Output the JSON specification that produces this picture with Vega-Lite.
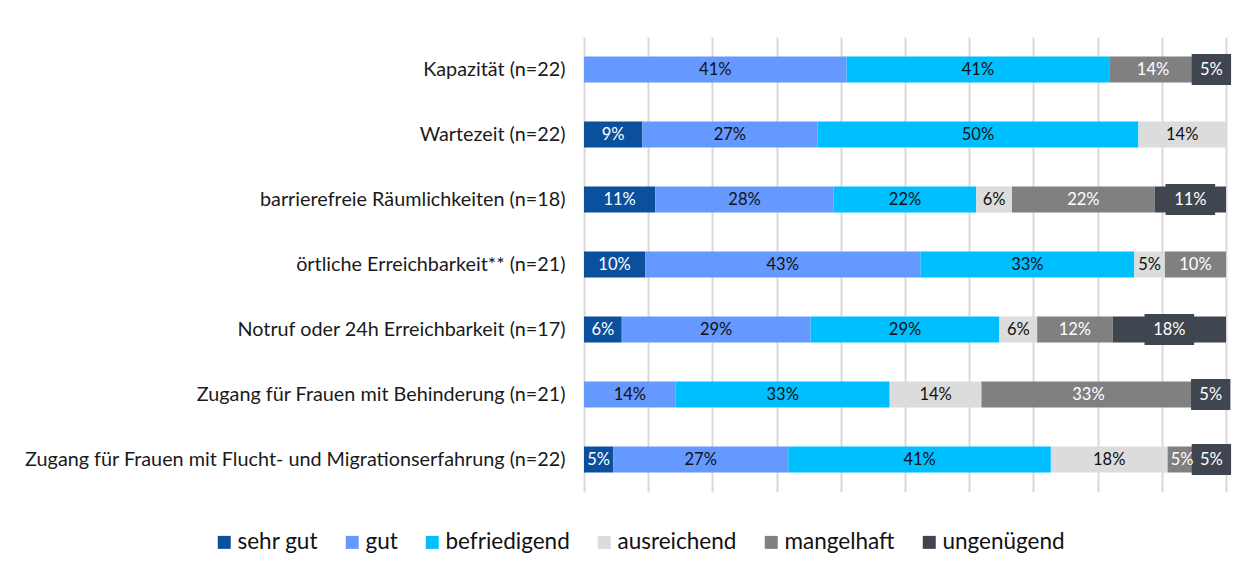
{
  "$schema": "https://vega.github.io/schema/vega-lite/v6.json",
  "width": 642,
  "height": 455,
  "autosize": {"type": "none"},
  "padding": {"left": 584, "top": 37, "right": 22, "bottom": 82},
  "background": "white",
  "config": {"font": "Lato", "view": {"stroke": null}},
  "data": {"values": [
    {"item": "Kapazität (n=22)", "rating": "gut", "pct": 40.91},
    {"item": "Kapazität (n=22)", "rating": "befriedigend", "pct": 40.91},
    {"item": "Kapazität (n=22)", "rating": "mangelhaft", "pct": 13.64},
    {"item": "Kapazität (n=22)", "rating": "ungenügend", "pct": 4.55},
    {"item": "Wartezeit (n=22)", "rating": "sehr gut", "pct": 9.09},
    {"item": "Wartezeit (n=22)", "rating": "gut", "pct": 27.27},
    {"item": "Wartezeit (n=22)", "rating": "befriedigend", "pct": 50.0},
    {"item": "Wartezeit (n=22)", "rating": "ausreichend", "pct": 13.64},
    {"item": "barrierefreie Räumlichkeiten (n=18)", "rating": "sehr gut", "pct": 11.11},
    {"item": "barrierefreie Räumlichkeiten (n=18)", "rating": "gut", "pct": 27.78},
    {"item": "barrierefreie Räumlichkeiten (n=18)", "rating": "befriedigend", "pct": 22.22},
    {"item": "barrierefreie Räumlichkeiten (n=18)", "rating": "ausreichend", "pct": 5.56},
    {"item": "barrierefreie Räumlichkeiten (n=18)", "rating": "mangelhaft", "pct": 22.22},
    {"item": "barrierefreie Räumlichkeiten (n=18)", "rating": "ungenügend", "pct": 11.11},
    {"item": "örtliche Erreichbarkeit** (n=21)", "rating": "sehr gut", "pct": 9.52},
    {"item": "örtliche Erreichbarkeit** (n=21)", "rating": "gut", "pct": 42.86},
    {"item": "örtliche Erreichbarkeit** (n=21)", "rating": "befriedigend", "pct": 33.33},
    {"item": "örtliche Erreichbarkeit** (n=21)", "rating": "ausreichend", "pct": 4.76},
    {"item": "örtliche Erreichbarkeit** (n=21)", "rating": "mangelhaft", "pct": 9.52},
    {"item": "Notruf oder 24h Erreichbarkeit (n=17)", "rating": "sehr gut", "pct": 5.88},
    {"item": "Notruf oder 24h Erreichbarkeit (n=17)", "rating": "gut", "pct": 29.41},
    {"item": "Notruf oder 24h Erreichbarkeit (n=17)", "rating": "befriedigend", "pct": 29.41},
    {"item": "Notruf oder 24h Erreichbarkeit (n=17)", "rating": "ausreichend", "pct": 5.88},
    {"item": "Notruf oder 24h Erreichbarkeit (n=17)", "rating": "mangelhaft", "pct": 11.76},
    {"item": "Notruf oder 24h Erreichbarkeit (n=17)", "rating": "ungenügend", "pct": 17.65},
    {"item": "Zugang für Frauen mit Behinderung (n=21)", "rating": "gut", "pct": 14.29},
    {"item": "Zugang für Frauen mit Behinderung (n=21)", "rating": "befriedigend", "pct": 33.33},
    {"item": "Zugang für Frauen mit Behinderung (n=21)", "rating": "ausreichend", "pct": 14.29},
    {"item": "Zugang für Frauen mit Behinderung (n=21)", "rating": "mangelhaft", "pct": 33.33},
    {"item": "Zugang für Frauen mit Behinderung (n=21)", "rating": "ungenügend", "pct": 4.76},
    {"item": "Zugang für Frauen mit Flucht- und Migrationserfahrung (n=22)", "rating": "sehr gut", "pct": 4.55},
    {"item": "Zugang für Frauen mit Flucht- und Migrationserfahrung (n=22)", "rating": "gut", "pct": 27.27},
    {"item": "Zugang für Frauen mit Flucht- und Migrationserfahrung (n=22)", "rating": "befriedigend", "pct": 40.91},
    {"item": "Zugang für Frauen mit Flucht- und Migrationserfahrung (n=22)", "rating": "ausreichend", "pct": 18.18},
    {"item": "Zugang für Frauen mit Flucht- und Migrationserfahrung (n=22)", "rating": "mangelhaft", "pct": 4.55},
    {"item": "Zugang für Frauen mit Flucht- und Migrationserfahrung (n=22)", "rating": "ungenügend", "pct": 4.55}
  ]},
  "transform": [
    {"calculate": "indexof(['sehr gut','gut','befriedigend','ausreichend','mangelhaft','ungenügend'], datum.rating)", "as": "r"},
    {"stack": "pct", "groupby": ["item"], "sort": [{"field": "r", "order": "ascending"}], "as": ["x0", "x1"], "offset": "normalize"},
    {"calculate": "(datum.x0 + datum.x1) / 2", "as": "mid"},
    {"calculate": "format(datum.pct, '.0f') + '%'", "as": "label"},
    {"calculate": "length(datum.label)", "as": "len"}
  ],
  "encoding": {
    "y": {
      "field": "item", "type": "nominal",
      "sort": ["Kapazität (n=22)", "Wartezeit (n=22)", "barrierefreie Räumlichkeiten (n=18)", "örtliche Erreichbarkeit** (n=21)", "Notruf oder 24h Erreichbarkeit (n=17)", "Zugang für Frauen mit Behinderung (n=21)", "Zugang für Frauen mit Flucht- und Migrationserfahrung (n=22)"],
      "scale": {"paddingInner": 0.6, "paddingOuter": 0.3},
      "axis": {"title": null, "domain": false, "ticks": false, "labelPadding": 19, "labelFontSize": 19.8, "labelColor": "#1a1a1a", "labelLimit": 600, "labelFont": "Lato"}
    }
  },
  "layer": [
    {
      "mark": {"type": "bar"},
      "encoding": {
        "x": {"field": "x0", "type": "quantitative", "scale": {"domain": [0, 1], "nice": false},
          "axis": {"title": null, "labels": false, "ticks": false, "domain": false, "grid": true, "values": [0, 0.1, 0.2, 0.3, 0.4, 0.5, 0.6, 0.7, 0.8, 0.9, 1], "gridColor": "#d9d9d9", "gridWidth": 2}},
        "x2": {"field": "x1"},
        "color": {
          "field": "rating", "type": "nominal",
          "scale": {"domain": ["sehr gut", "gut", "befriedigend", "ausreichend", "mangelhaft", "ungenügend"], "range": ["#0b509c", "#6699ff", "#00bfff", "#dcdcdc", "#808080", "#3f4650"]},
          "legend": {"title": null, "orient": "none", "legendX": -371, "legendY": 494, "direction": "horizontal", "symbolType": "square", "symbolSize": 169, "symbolStrokeWidth": 0, "labelFontSize": 22.5, "labelFont": "Lato", "labelColor": "#111111", "columnPadding": 23, "labelOffset": 2}
        }
      }
    },
    {
      "transform": [{"filter": "datum.rating === 'ungenügend'"}],
      "mark": {"type": "point", "filled": true, "opacity": 1, "color": "#3f4650", "size": 961},
      "encoding": {
        "x": {"field": "mid", "type": "quantitative"},
        "shape": {"field": "len", "type": "nominal", "scale": {"domain": [2, 3], "range": ["M-1.27,-1H1.27V1H-1.27Z", "M-1.6,-1H1.6V1H-1.6Z"]}, "legend": null}
      }
    },
    {
      "mark": {"type": "text", "fontSize": 16.5, "font": "Lato", "baseline": "middle", "align": "center"},
      "encoding": {
        "x": {"field": "mid", "type": "quantitative"},
        "text": {"field": "label", "type": "nominal"},
        "color": {"condition": {"test": "indexof(['sehr gut','mangelhaft','ungenügend'], datum.rating) >= 0", "value": "#ffffff"}, "value": "#111111"}
      }
    }
  ]
}
